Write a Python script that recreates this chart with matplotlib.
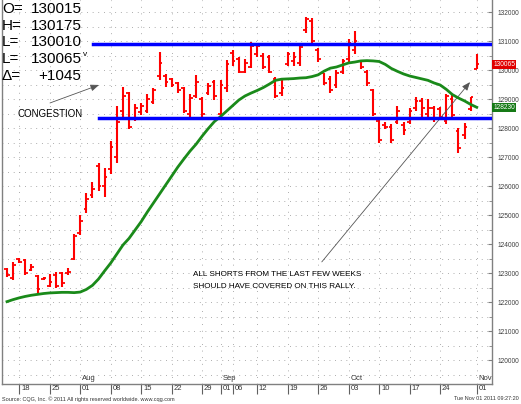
import matplotlib
matplotlib.use("Agg")
import matplotlib.pyplot as plt
import matplotlib.transforms as mtransforms
import pandas as pd

# T-bond futures, daily bars, prices in points (labels shown CQG style in 32nds)
dates = pd.bdate_range("2011-07-14", "2011-11-01").drop(pd.Timestamp("2011-09-05"))

opens = [123.15, 122.85, 123.50, 123.45, 123.10, 122.90, 122.80, 122.55, 122.95, 123.00,
         123.00, 123.50, 124.40, 125.20, 125.70, 126.70, 126.00, 126.60, 127.00, 128.60,
         129.20, 128.35, 128.55, 128.60, 128.90, 129.80, 129.80, 129.70, 129.55, 129.40,
         128.50, 129.10, 129.00, 129.20, 129.60, 128.50, 129.40, 130.60, 130.40, 129.95,
         130.10, 130.55, 130.50, 130.45, 129.70, 129.20, 130.20, 130.30, 130.25, 131.40,
         131.70, 130.70, 129.90, 129.70, 129.50, 129.95, 130.40, 130.70, 130.30, 129.95,
         129.30, 128.25, 128.10, 128.05, 128.20, 128.10, 128.20, 128.70, 128.95, 128.50,
         128.70, 128.65, 128.25, 129.00, 127.90, 127.75, 128.65, 130.047]
highs = [123.19, 123.38, 123.53, 123.48, 123.32, 122.94, 122.87, 122.98, 123.05, 123.05,
         123.19, 124.34, 125.01, 125.77, 126.13, 126.79, 126.62, 127.56, 128.77, 129.43,
         129.25, 128.84, 128.88, 129.18, 129.38, 130.64, 129.86, 129.72, 129.60, 129.43,
         129.17, 129.82, 129.07, 129.57, 129.66, 129.66, 130.35, 130.70, 130.47, 130.38,
         130.96, 130.95, 130.58, 130.52, 129.78, 129.66, 130.64, 130.64, 130.93, 131.85,
         131.79, 130.76, 129.92, 129.80, 129.99, 130.39, 131.08, 131.34, 130.35, 130.01,
         129.34, 128.30, 128.21, 128.16, 128.77, 128.20, 128.71, 129.09, 129.04, 129.02,
         128.77, 128.72, 129.18, 129.13, 128.01, 128.17, 129.07, 130.547]
lows = [122.88, 122.77, 123.36, 122.95, 123.09, 122.33, 122.78, 122.51, 122.48, 122.53,
        122.93, 123.46, 124.31, 125.07, 125.58, 125.84, 125.63, 126.42, 126.81, 128.38,
        127.96, 128.25, 128.46, 128.51, 128.84, 129.66, 129.43, 129.41, 129.20, 128.54,
        128.40, 129.03, 128.40, 129.15, 128.97, 128.40, 129.26, 130.15, 129.89, 129.89,
        130.07, 130.47, 130.03, 129.91, 129.03, 129.11, 130.13, 130.16, 130.15, 131.29,
        130.90, 130.28, 129.49, 129.20, 129.40, 129.87, 130.27, 130.56, 130.04, 129.47,
        128.42, 127.50, 127.97, 127.48, 128.16, 127.77, 128.13, 128.61, 128.35, 128.37,
        128.22, 128.30, 128.16, 128.39, 127.16, 127.64, 128.60, 130.031]
closes = [122.95, 123.30, 123.40, 123.00, 123.20, 122.45, 122.85, 122.70, 122.55, 122.65,
          123.05, 124.30, 124.80, 125.55, 125.90, 126.00, 126.30, 127.35, 128.20, 129.10,
          128.05, 128.70, 128.75, 129.00, 129.30, 130.25, 129.60, 129.50, 129.30, 128.60,
          129.05, 129.60, 128.50, 129.45, 129.10, 129.50, 130.20, 130.30, 129.95, 130.25,
          130.85, 130.85, 130.10, 129.95, 129.10, 129.40, 130.55, 130.45, 130.80, 131.75,
          131.00, 130.40, 129.55, 129.30, 129.90, 130.30, 130.95, 131.00, 130.10, 129.55,
          128.50, 127.60, 128.05, 127.60, 128.60, 127.95, 128.60, 128.95, 128.70, 128.70,
          128.35, 128.40, 129.10, 128.45, 127.30, 128.05, 129.0625, 130.203]
ma = [122.02, 122.09, 122.15, 122.20, 122.24, 122.27, 122.30, 122.32, 122.33, 122.34,
      122.34, 122.33, 122.35, 122.44, 122.58, 122.80, 123.08, 123.35, 123.66, 123.97,
      124.20, 124.49, 124.78, 125.11, 125.42, 125.73, 126.04, 126.35, 126.66, 126.94,
      127.21, 127.45, 127.73, 127.99, 128.23, 128.40, 128.59, 128.78, 128.97, 129.11,
      129.21, 129.30, 129.40, 129.52, 129.65, 129.69, 129.70, 129.71, 129.73, 129.74,
      129.78, 129.84, 129.97, 130.07, 130.11, 130.18, 130.25, 130.28, 130.32, 130.33,
      130.32, 130.30, 130.20, 130.06, 129.96, 129.87, 129.80, 129.75, 129.70, 129.65,
      129.56, 129.49, 129.34, 129.16, 129.04, 128.94, 128.82, 128.72]

resistance = 130.90
support = 128.35

tick_dates = ["2011-07-18", "2011-07-25", "2011-08-01", "2011-08-08", "2011-08-15",
              "2011-08-22", "2011-08-29", "2011-09-01", "2011-09-06", "2011-09-12",
              "2011-09-19", "2011-09-26", "2011-10-03", "2011-10-10", "2011-10-17",
              "2011-10-24", "2011-11-01"]
month_dates = ["2011-08-01", "2011-09-01", "2011-10-03", "2011-11-01"]
month_names = ["Aug", "Sep", "Oct", "Nov"]


def fmt32(p):
    whole = int(p)
    return "%d%03d" % (whole, round((p - whole) * 320))


W, H = 521, 404
fig = plt.figure(figsize=(W / 100, H / 100), dpi=100)
fig.patch.set_facecolor("white")


def fx(x):
    return x / W


def fy(y):
    return 1 - y / H


ax = fig.add_axes([fx(2), fy(384), fx(490), 384 / H])
x = list(range(len(dates)))
pos = {d: i for i, d in enumerate(dates)}

ax.set_xlim(-0.82, 79.5)
ax.set_ylim(119.18, 132.42)

# dotted grid
for v in [119.5 + 0.5 * k for k in range(26)]:
    ax.axhline(v, color="#9a9a9a", lw=0.7, ls=(0, (0.8, 5)), zorder=0)
tick_idx = [pos[pd.Timestamp(d)] for d in tick_dates]
for t in tick_idx:
    ax.axvline(t, color="#9a9a9a", lw=0.7, ls=(0, (0.8, 6)), zorder=0)

# bars
ax.vlines(x, lows, highs, color="#ff0000", lw=1.5, zorder=3)
ax.hlines(opens, [i - 0.45 for i in x], x, color="#ff0000", lw=1.3, zorder=3)
ax.hlines(closes, x, [i + 0.45 for i in x], color="#ff0000", lw=1.3, zorder=3)

# moving average
ax.plot(x, ma, color="#1a8a1a", lw=2, zorder=4)

# congestion band
ax.plot([14.05, 79.5], [resistance, resistance], color="#0000ff", lw=2.5, zorder=5)
ax.plot([15.1, 79.5], [support, support], color="#0000ff", lw=2.5, zorder=5)

# axes styling
ax.spines["top"].set_visible(False)
for s in ["left", "right", "bottom"]:
    ax.spines[s].set_color("#808080")
    ax.spines[s].set_linewidth(1)
ax.yaxis.tick_right()
ax.set_yticks(range(120, 133))
ax.set_yticklabels([fmt32(v) for v in range(120, 133)], fontsize=4.8, color="#404040",
                   family="Liberation Sans")
ax.set_yticks([120.5 + k for k in range(12)], minor=True)
ax.tick_params(axis="y", which="major", length=3, direction="in", color="#808080", pad=4)
ax.tick_params(axis="y", which="minor", length=2, direction="in", color="#808080")

ax.set_xticks(tick_idx)
ax.set_xticklabels([])
ax.tick_params(axis="x", length=7, direction="out", color="#606060")
xt = ax.get_xaxis_transform()
for t, d in zip(tick_idx, tick_dates):
    ax.text(t + 0.3, -0.013, d[-2:], transform=xt, fontsize=5.5, ha="left", va="center",
            color="#333333", family="Liberation Sans")
for d, m in zip(month_dates, month_names):
    ax.text(pos[pd.Timestamp(d)] + 0.3, 0.004, m, transform=xt, fontsize=5.5, ha="left",
            va="bottom", color="#333333", family="Liberation Sans")

# last value boxes
yt = mtransforms.blended_transform_factory(ax.transAxes, ax.transData)
ax.text(1.003, closes[-1], fmt32(closes[-1]), transform=yt, fontsize=4.8, color="white",
        ha="left", va="center", family="Liberation Sans",
        bbox=dict(boxstyle="square,pad=0.15", fc="#e00000", ec="none"))
ax.text(1.003, ma[-1], fmt32(ma[-1]), transform=yt, fontsize=4.8, color="white",
        ha="left", va="center", family="Liberation Sans",
        bbox=dict(boxstyle="square,pad=0.15", fc="#167a16", ec="none"))

# header
chg = closes[-1] - closes[-2]
header = [("O=", fmt32(opens[-1])), ("H=", fmt32(highs[-1])), ("L=", fmt32(lows[-1])),
          ("L=", fmt32(closes[-1])), ("\u0394=", "+" + fmt32(chg))]
for k, (lab, val) in enumerate(header):
    yy = 9 + 16.7 * k
    fig.text(fx(2), fy(yy), lab, fontsize=11, va="center", ha="left", family="Liberation Sans")
    fig.text(fx(81.5), fy(yy), val, fontsize=11, va="center", ha="right", family="Liberation Sans")
fig.text(fx(83), fy(55), "v", fontsize=6, va="center", ha="left", family="Liberation Sans")

# annotations
ax.annotate("", xy=(15.08, 129.49), xytext=(7.05, 128.87),
            arrowprops=dict(arrowstyle="-|>,head_length=0.5,head_width=0.2", color="#555555",
                            lw=0.6, shrinkA=0, shrinkB=0))
fig.text(fx(18), fy(114.5), "CONGESTION", fontsize=7, va="center", ha="left",
         family="Liberation Sans")
ax.annotate("", xy=(75.9, 129.59), xytext=(51.6, 123.39),
            arrowprops=dict(arrowstyle="-|>,head_length=0.5,head_width=0.2", color="#555555",
                            lw=0.6, shrinkA=0, shrinkB=0))
fig.text(fx(193), fy(275), "ALL SHORTS FROM THE LAST FEW WEEKS", fontsize=5.9, va="center",
         ha="left", family="Liberation Sans")
fig.text(fx(193), fy(287), "SHOULD HAVE COVERED ON THIS RALLY.", fontsize=5.9, va="center",
         ha="left", family="Liberation Sans")

# footer
fig.text(fx(2), fy(399), "Source: CQG, Inc. \u00a9 2011 All rights reserved worldwide. www.cqg.com",
         fontsize=4, va="center", ha="left", color="#333333", family="Liberation Sans")
fig.text(fx(519), fy(399), "Tue Nov 01 2011 09:27:20", fontsize=4, va="center", ha="right",
         color="#333333", family="Liberation Sans")

fig.savefig("out.png", dpi=100, facecolor="white")
